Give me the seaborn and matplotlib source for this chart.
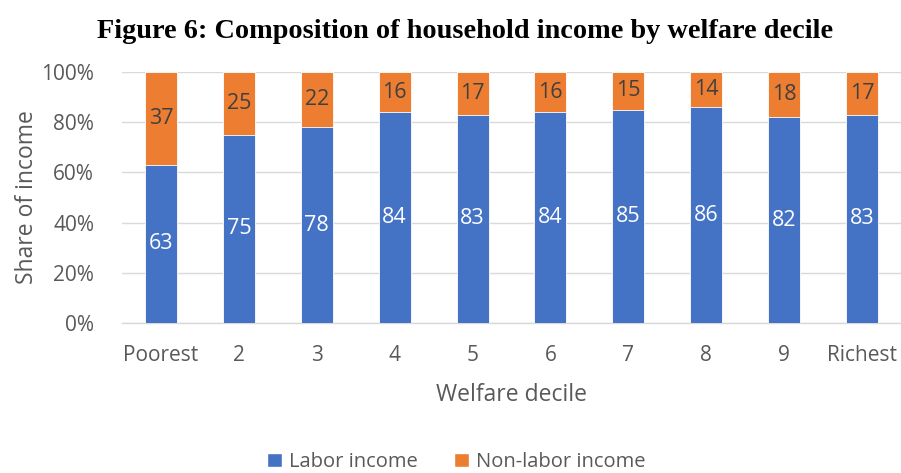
import matplotlib
matplotlib.use("Agg")
import matplotlib.pyplot as plt
import seaborn as sns
import pandas as pd
from matplotlib.patches import Patch
from matplotlib.ticker import FuncFormatter

deciles = ["Poorest", "2", "3", "4", "5", "6", "7", "8", "9", "Richest"]
labor = [63, 75, 78, 84, 83, 84, 85, 86, 82, 83]
nonlabor = [37, 25, 22, 16, 17, 16, 15, 14, 18, 17]

df = pd.DataFrame({"decile": deciles, "labor": labor, "nonlabor": nonlabor})
df["total"] = df["labor"] + df["nonlabor"]

BLUE = "#4472C4"
ORANGE = "#ED7D31"
GRAY = "#595959"

sns.set_theme(style="white")
plt.rcParams["font.family"] = ["Open Sans", "DejaVu Sans"]

fig = plt.figure(figsize=(9.01, 4.73), dpi=100)
ax = fig.add_axes([122/901, 1-323/473, 779/901, 251/473])

sns.barplot(data=df, x="decile", y="total", color=ORANGE, width=0.41, ax=ax,
            saturation=1, edgecolor="white", linewidth=0.6, zorder=2)
sns.barplot(data=df, x="decile", y="labor", color=BLUE, width=0.41, ax=ax,
            saturation=1, edgecolor="white", linewidth=0.6, zorder=3)

ax.set_ylim(0, 100)
ax.set_xlim(-0.5, len(deciles) - 0.5)
ax.set_yticks([0, 20, 40, 60, 80, 100])
ax.yaxis.set_major_formatter(FuncFormatter(lambda v, p: f"{int(v)}%"))
ax.grid(axis="y", color="#D9D9D9", linewidth=1, zorder=0)
ax.set_axisbelow(True)
for s in ["top", "right", "left"]:
    ax.spines[s].set_visible(False)
ax.spines["bottom"].set_color("#D9D9D9")
ax.spines["bottom"].set_linewidth(1)
ax.tick_params(axis="both", length=0, labelsize=15, colors=GRAY)
ax.tick_params(axis="y", pad=20)
ax.tick_params(axis="x", pad=16)

ax.set_xlabel("Welfare decile", fontsize=16.5, color=GRAY, labelpad=12)
ax.set_ylabel("Share of income", fontsize=16.5, color=GRAY, labelpad=2)

for i, (l, n) in enumerate(zip(labor, nonlabor)):
    ax.text(i, l / 2, str(l), ha="center", va="center",
            color="white", fontsize=15.5, zorder=4)
    ax.text(i, l + n / 2, str(n), ha="center", va="center", color="#404040",
            fontsize=15.5, zorder=4)

fig.text(465.5/901, 1 - 31/473, "Figure 6: Composition of household income by welfare decile",
         ha="center", va="center", fontsize=20.3, fontweight="bold",
         family=["Liberation Serif", "DejaVu Serif"], color="black")

handles = [Patch(facecolor=BLUE, label="Labor income"),
           Patch(facecolor=ORANGE, label="Non-labor income")]
fig.legend(handles=handles, loc="center", bbox_to_anchor=(456/901, 1 - 462/473),
           ncol=2, frameon=False, fontsize=14.5, handlelength=0.75, handleheight=0.75,
           handletextpad=0.35, columnspacing=1.8, labelcolor=GRAY)

fig.savefig("out.png", dpi=100)
